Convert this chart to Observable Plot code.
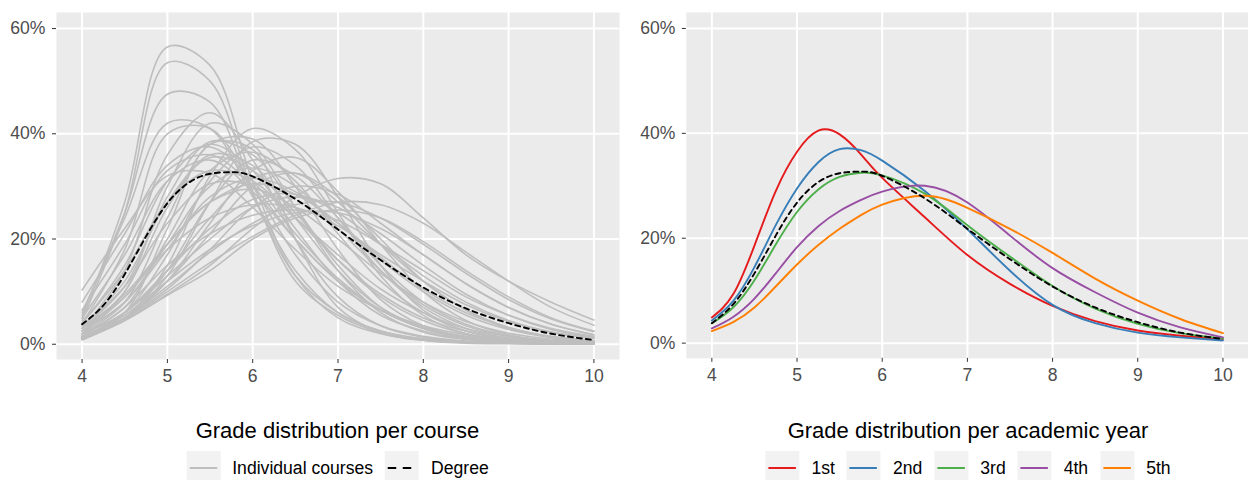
<!DOCTYPE html>
<html><head><meta charset="utf-8">
<script src="https://cdn.jsdelivr.net/npm/d3@7"></script>
<script src="https://cdn.jsdelivr.net/npm/@observablehq/plot@0.6"></script>
<style>
body{margin:0;background:#fff;font-family:"Liberation Sans",Arial,sans-serif;}
#root{position:relative;width:1248px;height:480px;overflow:hidden;background:#fff;}
.panel{position:absolute;top:0;}
.title{position:absolute;top:418px;font-size:22px;line-height:26px;color:#000;transform:translateX(-50%);white-space:nowrap;}
.legend{position:absolute;top:451px;height:34px;display:flex;align-items:center;transform:translateX(-50%);white-space:nowrap;font-size:17.6px;color:#000;}
.key{width:34px;height:34px;background:#F2F2F2;margin-right:12px;flex:none;}
.key svg{display:block;}
.lab{margin-right:12px;}
.lab:last-child{margin-right:0;}
</style></head><body><div id="root"></div>
<script>
// ---- data ----
const gradesCoarse = [4, 4.5, 5, 5.5, 6, 6.5, 7, 7.5, 8, 8.5, 9, 9.5, 10];
const gradesFine = [4, 4.25, 4.5, 4.75, 5, 5.25, 5.5, 5.75, 6, 6.5, 7, 7.5, 8, 8.5, 9, 9.5, 10];
const yTicks = [0, 20, 40, 60];
const xTicks = [4, 5, 6, 7, 8, 9, 10];

// individual course densities (%) on gradesCoarse
const courseCurves = [
  [5, 27, 56.5, 53, 31, 13, 5, 2, 0.8, 0.3, 0.2, 0.1, 0.1],
  [4.5, 25, 53.5, 50, 29, 12, 5.5, 2.2, 0.8, 0.3, 0.2, 0.1, 0.1],
  [5.5, 25, 47.5, 46, 28.5, 13, 6, 2.5, 1, 0.4, 0.2, 0.1, 0.1],
  [3, 14, 36, 44, 35, 20, 9, 3.5, 1.3, 0.5, 0.2, 0.1, 0.1],
  [6, 24, 42, 41, 28, 14, 6, 2.5, 1, 0.4, 0.2, 0.1, 0.1],
  [4, 18, 40, 41, 30, 17, 8, 3.5, 1.5, 0.6, 0.3, 0.1, 0.1],
  [2.5, 10, 30, 42, 38, 26, 14, 6, 2.3, 0.9, 0.3, 0.1, 0.1],
  [1.5, 5, 15, 32, 41, 37, 25, 13, 5.5, 2, 0.8, 0.3, 0.1],
  [1.2, 4.8, 13, 27, 38.5, 38, 28, 15, 6.5, 2.5, 0.9, 0.3, 0.1],
  [2, 8, 24, 38, 39, 30, 18, 8.5, 3.5, 1.3, 0.5, 0.2, 0.1],
  [3, 11, 28, 38.5, 36, 26, 15, 7, 3, 1.2, 0.5, 0.2, 0.1],
  [4, 15, 31, 38, 33, 22, 12, 5.5, 2.5, 1, 0.4, 0.2, 0.1],
  [2, 7, 20, 33, 36.5, 31, 21, 12, 6, 2.5, 1, 0.4, 0.2],
  [3.5, 12, 27, 35.5, 33, 25, 16, 9, 4.5, 2, 0.9, 0.4, 0.2],
  [1.5, 5, 14, 27, 35, 32, 24, 15, 8, 3.8, 1.6, 0.6, 0.3],
  [5, 17, 31, 35, 29, 20, 12, 6.5, 3.2, 1.5, 0.7, 0.3, 0.2],
  [1.2, 4.8, 12, 23, 33, 35.5, 29, 19, 10, 4.5, 1.8, 0.7, 0.3],
  [2.5, 8, 19, 30, 33.5, 30, 22, 14, 7.5, 3.5, 1.5, 0.6, 0.3],
  [1.3, 5, 12, 21, 30, 32.5, 28, 20, 12, 6.5, 3, 1.4, 0.6],
  [2.5, 8, 18, 28, 31.5, 29, 23, 16, 10, 5.5, 2.8, 1.3, 0.6],
  [1, 4.5, 9.5, 15, 22, 28, 31.5, 30.5, 24, 17, 12, 8, 4.6],
  [1, 4.8, 10.5, 18, 26, 30, 28.5, 23, 17, 11.5, 7, 3.8, 1.8],
  [2, 6, 13, 20, 26, 28, 26, 21, 15, 9.5, 5.5, 2.8, 1.3],
  [0.8, 4.5, 9.3, 14, 20, 24, 25.5, 24, 19.5, 14, 9, 5, 2.5],
  [1, 5.5, 12, 18, 22.5, 25, 25, 22, 17, 11.5, 7, 3.8, 1.8],
  [1.5, 7, 15, 21, 24.5, 25.5, 23.5, 19, 14, 9, 5.5, 3, 1.5],
  [2, 9, 18, 24, 26.5, 26, 22.5, 17, 12, 7.5, 4.3, 2.3, 1.1],
  [1.2, 6, 14, 22, 27.5, 28.5, 25, 19, 13, 8, 4.5, 2.3, 1.1],
  [4, 14, 27, 33, 31, 24, 16, 9.5, 5, 2.5, 1.1, 0.5, 0.2],
  [3.5, 11, 23, 30.5, 30, 24, 17, 10.5, 6, 3, 1.5, 0.7, 0.3],
  [3, 9, 19, 27, 29.5, 26, 20, 13.5, 8, 4.3, 2.1, 1, 0.4],
  [10.3, 22, 32, 32.5, 26, 18, 11, 6.5, 3.5, 1.8, 0.9, 0.4, 0.2],
  [8, 21, 34, 37.5, 31, 21, 12.5, 6.5, 3, 1.3, 0.5, 0.2, 0.1],
  [1.2, 6, 22, 38, 37, 20, 7, 2.2, 0.7, 0.2, 0.1, 0.1, 0.1],
  [1.5, 6, 17, 31, 37.5, 34, 24, 14, 7, 3, 1.2, 0.5, 0.2],
  [2, 6, 14, 24, 31.5, 32.5, 27, 19, 12, 6.5, 3.2, 1.4, 0.6],
  [2.5, 10, 26, 36, 34, 24, 14, 7, 3.2, 1.4, 0.6, 0.2, 0.1],
  [1.5, 5, 11, 17.5, 23, 26.5, 27, 24, 19, 13.5, 8.5, 4.8, 2.4],
  [3, 9.5, 19, 27, 30.5, 28.5, 23, 16.5, 10.5, 6, 3.2, 1.5, 0.7],
  [0.9, 4.6, 10, 15.5, 20.5, 24.5, 27, 26.5, 23, 17.5, 12, 7, 3.6],
  [6.5, 19, 33, 36, 30, 20, 12, 6.5, 3, 1.3, 0.5, 0.2, 0.1]
];

// degree density (%) on gradesFine
const degree = [3.8, 7.4, 13.3, 20.5, 26.8, 30.7, 32.4, 32.7, 31.9, 27.6, 21.8, 16, 10.8, 6.8, 4.0, 2.0, 0.8];

// academic year densities (%) on gradesFine
const years = ["1st", "2nd", "3rd", "4th", "5th"];
const yearColors = ["#E41A1C", "#377EB8", "#4DAF4A", "#984EA3", "#FF7F00"];
const year1 = [4.9, 9.3, 18.6, 29, 36.5, 40.5, 39.8, 36, 31.5, 24, 16.8, 11.3, 7.1, 4.2, 2.4, 1.4, 0.8];
const year2 = [4.3, 8, 14.5, 22.5, 29.5, 34.5, 37, 36.8, 34.8, 29, 21.7, 13.8, 7.3, 3.8, 2.0, 1.1, 0.5];
const year3 = [3.8, 6.8, 12, 18.8, 25, 29.3, 31.7, 32.5, 32, 28.5, 22.5, 16.5, 10.9, 6.6, 3.7, 1.9, 0.9];
const year4 = [2.8, 5, 8.5, 13.3, 18.3, 22.3, 25.2, 27.3, 28.9, 30, 26.8, 20.5, 14.3, 9.7, 5.8, 3.0, 1.1];
const year5 = [2.3, 4, 6.8, 10.8, 15, 18.7, 21.8, 24.4, 26.4, 28.1, 25.8, 21.8, 17.2, 12.3, 8.1, 4.6, 1.9];
const yearSeries = [year1, year2, year3, year4, year5];

// ---- tables ----
const courseRows = courseCurves.flatMap((vals, i) => vals.map((v, j) => ({id: i, g: gradesCoarse[j], v})));
const degreeRows = degree.map((v, j) => ({g: gradesFine[j], v}));
const yearRows = yearSeries.flatMap((vals, i) => vals.map((v, j) => ({year: years[i], g: gradesFine[j], v})));

const FONT = "Liberation Sans, Arial, sans-serif";

function basePlot(width, ml, mr, marks) {
  return Plot.plot({
    width, height: 389,
    marginLeft: ml, marginRight: mr, marginTop: 12, marginBottom: 30,
    style: {fontFamily: FONT, fontSize: "17.6px", background: "transparent", overflow: "visible"},
    x: {domain: [3.7, 10.3]},
    y: {domain: [-2.9, 63.05]},
    color: {domain: years, range: yearColors},
    marks: [
      Plot.frame({fill: "#EBEBEB", stroke: "none"}),
      Plot.gridX(xTicks, {stroke: "#FFFFFF", strokeOpacity: 1, strokeWidth: 2}),
      Plot.gridY(yTicks, {stroke: "#FFFFFF", strokeOpacity: 1, strokeWidth: 2}),
      Plot.axisX(xTicks, {tickSize: 4, tickPadding: 6, stroke: "#333333", fill: "#4D4D4D", fontSize: 17.6, label: null, tickFormat: d => String(d)}),
      Plot.axisY(yTicks, {tickSize: 4, tickPadding: 7, stroke: "#333333", fill: "#4D4D4D", fontSize: 17.6, label: null, tickFormat: d => d + "%"}),
      ...marks
    ]
  });
}

const left = basePlot(624, 56, 5, [
  Plot.line(courseRows, {x: "g", y: "v", z: "id", stroke: "#BEBEBE", strokeWidth: 1.6, curve: "catmull-rom"}),
  Plot.line(degreeRows, {x: "g", y: "v", stroke: "#000000", strokeWidth: 1.9, strokeDasharray: "5,4", curve: "natural"})
]);
const right = basePlot(626, 62, 0, [
  Plot.line(yearRows, {x: "g", y: "v", z: "year", stroke: "year", strokeWidth: 1.9, curve: "natural"}),
  Plot.line(degreeRows, {x: "g", y: "v", stroke: "#000000", strokeWidth: 1.9, strokeDasharray: "5,4", curve: "natural"})
]);

const root = document.getElementById("root");
function place(el, x) { const d = document.createElement("div"); d.className = "panel"; d.style.left = x + "px"; d.appendChild(el); root.appendChild(d); }
place(left, 0);
place(right, 624);

function title(text, cx) {
  const d = document.createElement("div"); d.className = "title"; d.style.left = cx + "px"; d.textContent = text; root.appendChild(d);
}
function keySvg(color, dash) {
  return `<svg width="34" height="34"><line x1="3" x2="30.5" y1="17" y2="17" stroke="${color}" stroke-width="2"${dash ? ` stroke-dasharray="${dash}"` : ""}/></svg>`;
}
function legend(items, cx) {
  const d = document.createElement("div"); d.className = "legend"; d.style.left = cx + "px";
  for (const it of items) {
    const k = document.createElement("div"); k.className = "key"; k.innerHTML = keySvg(it.color, it.dash); d.appendChild(k);
    const l = document.createElement("span"); l.className = "lab"; l.textContent = it.label; d.appendChild(l);
  }
  root.appendChild(d);
}
title("Grade distribution per course", 337.5);
title("Grade distribution per academic year", 968);
legend([{label: "Individual courses", color: "#BEBEBE"}, {label: "Degree", color: "#000000", dash: "8.5,6.5"}], 337.5);
legend(years.map((y, i) => ({label: y, color: yearColors[i]})), 968);
</script></body></html>
